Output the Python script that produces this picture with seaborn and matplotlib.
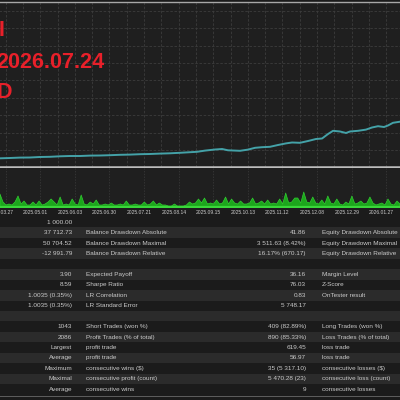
import numpy as np
import matplotlib
matplotlib.use('Agg')
import matplotlib.pyplot as plt
import seaborn as sns
import pandas as pd

# Balance curve from the tester graph: deal number vs balance (USD)
deal_no = [0, 135, 251, 366, 482, 598, 713, 829, 944, 1060, 1176, 1291, 1407,
           1523, 1638, 1754, 1869, 1985, 2101, 2216, 2332, 2413, 2505, 2621,
           2702, 2771, 2910, 3002, 3083, 3164, 3256, 3349, 3441, 3511, 3603,
           3696, 3788, 3858, 3927, 3985, 4066, 4135, 4181, 4274, 4366, 4435,
           4505, 4574, 4620, 4678, 4759]
balance = [1000, 1310, 1630, 2050, 2150, 2680, 2890, 3410, 3720, 3720, 4140,
           4250, 4560, 4980, 5190, 5610, 5820, 6240, 6550, 7080, 7700, 8120,
           9380, 10530, 11060, 9700, 9170, 10430, 12310, 12940, 13360, 15250,
           16930, 17870, 17550, 19440, 21530, 22060, 26770, 30120, 29390,
           27820, 29390, 30120, 31380, 33580, 34940, 34100, 35680, 38500, 39660]

# Volume spikes in the lower panel
volume = [13, 5, 2, 3, 2, 5, 11, 3, 6, 2, 2, 5, 2, 6, 2, 3, 5, 8, 5, 2,
          10, 2, 3, 2, 8, 3, 2, 12, 3, 2, 5, 3, 7, 2, 2, 3, 2, 4, 2, 2,
          3, 2, 6, 2, 2, 3, 2, 2, 5, 2, 3, 6, 2, 4, 2, 2, 1, 1, 3, 1,
          1, 1, 2, 5, 3, 4, 8, 4, 9, 3, 4, 3, 7, 3, 4, 10, 3, 8, 4, 3,
          6, 3, 3, 4, 9, 3, 4, 6, 3, 7, 3, 4, 3, 8, 3, 14, 4, 5, 9, 9,
          4, 15, 5, 4, 10, 4, 3, 7, 3, 11, 4, 3, 8, 3, 2, 5, 3, 11, 3, 4,
          6, 3, 4, 10, 4, 2, 3, 4, 2, 8, 3, 2, 6, 3]

# Date labels along the deal axis
tick_deals = [0, 400, 800, 1200, 1600, 2000, 2400, 2800, 3200, 3600, 4000, 4400]
tick_dates = ['2025.03.27', '2025.05.01', '2025.06.03', '2025.06.30',
              '2025.07.21', '2025.08.14', '2025.09.15', '2025.10.13',
              '2025.11.12', '2025.12.08', '2025.12.29', '2026.01.27']

# Report table (4 columns)
col_a = ['1 000.00', '37 712.73', '50 704.52', '-12 991.79', '', '3.90', '8.59',
         '1.0035 (0.35%)', '1.0035 (0.35%)', '', '1043', '2086', 'Largest',
         'Average', 'Maximum', 'Maximal', 'Average']
col_b = ['', 'Balance Drawdown Absolute', 'Balance Drawdown Maximal',
         'Balance Drawdown Relative', '', 'Expected Payoff', 'Sharpe Ratio',
         'LR Correlation', 'LR Standard Error', '', 'Short Trades (won %)',
         'Profit Trades (% of total)', 'profit trade', 'profit trade',
         'consecutive wins ($)', 'consecutive profit (count)', 'consecutive wins']
col_c = ['', '41.86', '3 511.63 (8.42%)', '16.17% (670.17)', '', '36.16', '76.03',
         '0.83', '5 748.17', '', '409 (82.89%)', '890 (85.33%)', '619.45', '56.97',
         '35 (5 317.10)', '5 470.28 (23)', '9']
col_d = ['', 'Equity Drawdown Absolute', 'Equity Drawdown Maximal',
         'Equity Drawdown Relative', '', 'Margin Level', 'Z-Score',
         'OnTester result', '', '', 'Long Trades (won %)',
         'Loss Trades (% of total)', 'loss trade', 'loss trade',
         'consecutive losses ($)', 'consecutive loss (count)', 'consecutive losses']

# Style
sns.set_theme(style='dark')
plt.rcParams['font.family'] = ['Liberation Sans', 'DejaVu Sans']

BG = '#1f1f1f'
BAND = '#2b2b2b'
TXT = '#cacaca'
GRID = '#3c3c3c'

fig = plt.figure(figsize=(4, 4), dpi=100, facecolor='#1b1b1b')


def px_axes(top, bottom, left=0.0, right=400.0):
    return fig.add_axes([left / 400, 1 - bottom / 400,
                         (right - left) / 400, (bottom - top) / 400])


x_max = 4759
grid_x = np.arange(0, x_max, 200)

# Balance panel
ax_top = px_axes(2, 167, left=-11.7)
ax_top.set_facecolor(BG)
df = pd.DataFrame({'deal': deal_no, 'balance': balance})
sns.lineplot(data=df, x='deal', y='balance', ax=ax_top, color='#44a2a8',
             linewidth=1.4)
ax_top.set_xlim(0, x_max)
y_lo = 1000 - 8.4 * 1047.6
y_hi = 1000 + 156.6 * 1047.6
ax_top.set_ylim(y_lo, y_hi)
ax_top.set_xticks(grid_x)
ax_top.set_yticks(np.arange(10000, y_hi, 18228))
ax_top.grid(True, color=GRID, linestyle=(0, (3, 2)), linewidth=0.6)
ax_top.tick_params(length=0, labelbottom=False, labelleft=False)
ax_top.set_xlabel('')
ax_top.set_ylabel('')
for side in ['left', 'right']:
    ax_top.spines[side].set_visible(False)
ax_top.spines['top'].set_color('#a8a8a8')
ax_top.spines['top'].set_linewidth(1.0)
ax_top.spines['bottom'].set_color('#bdbdbd')
ax_top.spines['bottom'].set_linewidth(1.8)

# red overlay text (cut by the left edge, as in the screenshot)
red = '#e8202a'
for txt, xp, yp in [('I', -1.5, 31), ('2026.07.24', -4, 63), ('D', -3, 92)]:
    fig.text(xp / 400, 1 - yp / 400, txt, color=red, fontsize=15.5,
             fontweight='bold', va='center', ha='left')

# Volume panel
ax_vol = px_axes(168, 208, left=-11.7)
ax_vol.set_facecolor(BG)
vol_x = np.linspace(135, x_max, len(volume))
ax_vol.fill_between(vol_x, 0, volume, color='#1ca61c', linewidth=0.5,
                    edgecolor='#30cc30')
ax_vol.axhline(0, color='#3ad63a', linewidth=1.6)
ax_vol.set_xlim(0, x_max)
ax_vol.set_ylim(-1, 39)
ax_vol.set_xticks(grid_x, minor=True)
ax_vol.grid(True, which='minor', axis='x', color=GRID,
            linestyle=(0, (2, 2)), linewidth=0.5)
ax_vol.grid(False, which='major')
ax_vol.set_xticks(tick_deals)
ax_vol.set_xticklabels(tick_dates)
ax_vol.set_yticks([])
ax_vol.tick_params(axis='x', which='both', length=0, pad=1.2,
                   labelsize=3.6, labelcolor=TXT)
for lbl in ax_vol.get_xticklabels():
    lbl.set_ha('left')
for side in ['left', 'right', 'top', 'bottom']:
    ax_vol.spines[side].set_visible(False)

# Report table
ax_tab = px_axes(217, 397)
ax_tab.set_facecolor('#1c1c1c')
n_rows = len(col_a)
ax_tab.set_xlim(0, 400)
ax_tab.set_ylim(n_rows - 0.26, -0.5)
for i in range(n_rows):
    if i % 2 == 1:
        ax_tab.axhspan(i - 0.5, i + 0.5, color=BAND, linewidth=0)
    kw = dict(va='center', fontsize=4.6, color=TXT)
    ax_tab.text(72, i, col_a[i], ha='right', **kw)
    ax_tab.text(86, i, col_b[i], ha='left', **kw)
    ax_tab.text(306, i, col_c[i], ha='right', **kw)
    ax_tab.text(322, i, col_d[i], ha='left', **kw)
ax_tab.axis('off')
ax_tab.axhline(n_rows - 0.3, color='#6a6a6a', linewidth=1.2)

fig.savefig('out.png', dpi=100, facecolor=fig.get_facecolor())
